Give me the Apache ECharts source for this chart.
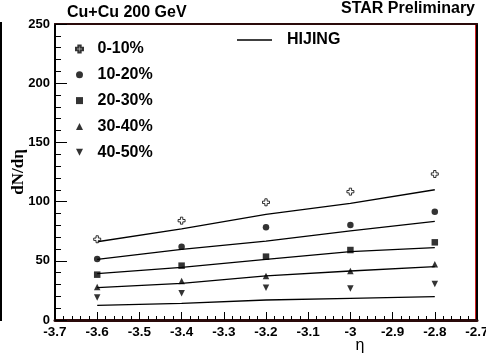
<!DOCTYPE html>
<html>
<head>
<meta charset="utf-8">
<script src="https://cdn.jsdelivr.net/npm/echarts@6/dist/echarts.min.js"></script>
<style>
  html, body { margin: 0; padding: 0; background: #fff; }
  #main { width: 486px; height: 362px; }
</style>
</head>
<body>
<div id="main"></div>
<script>
// eta bins
var eta = [-3.6, -3.4, -3.2, -3.0, -2.8];

// measured dN/deta per centrality
var cent0010 = [68.2, 83.9, 99.4, 108.4, 123.3];
var cent1020 = [51.5, 61.9, 78.3, 80.2, 91.5];
var cent2030 = [38.3, 45.9, 53.5, 59.1, 65.6];
var cent3040 = [27.9, 32.9, 37.2, 41.4, 47.0];
var cent4050 = [18.9, 22.5, 27.3, 26.7, 30.4];

// HIJING curves, same order
var hij0010 = [66.1, 76.9, 89.2, 98.5, 110.0];
var hij1020 = [51.2, 59.7, 66.7, 75.2, 83.3];
var hij2030 = [39.1, 44.5, 51.2, 57.7, 61.1];
var hij3040 = [27.3, 31.0, 37.2, 41.4, 45.0];
var hij4050 = [12.4, 14.1, 16.9, 18.3, 19.7];

var centNames = ['0-10%', '10-20%', '20-30%', '30-40%', '40-50%'];
var xTicks = { min: -3.7, max: -2.7, step: 0.1 };
var yTicks = { min: 0, max: 250, step: 50 };

var FONT = '"Liberation Sans", Arial, sans-serif';

function pairs(ys) {
  var out = [];
  for (var i = 0; i < eta.length; i++) {
    out.push([eta[i], ys[i]]);
  }
  return out;
}

// ROOT-ish marker shapes
var symOpenCross = 'path://M1,0H2V1H3V2H2V3H1V2H0V1H1Z';
var symSquare = 'path://M0,0H1V1H0Z';
var symTriUp = 'path://M1,0L2,2L0,2Z';
var symTriDown = 'path://M0,0L2,0L1,2Z';

var dataSets = [cent0010, cent1020, cent2030, cent3040, cent4050];
var symbols = [symOpenCross, 'circle', symSquare, symTriUp, symTriDown];
var hijSets = [hij0010, hij1020, hij2030, hij3040, hij4050];

var series = [];
for (var h = 0; h < hijSets.length; h++) {
  series.push({
    name: 'HIJING',
    type: 'line',
    data: pairs(hijSets[h]),
    symbol: 'none',
    lineStyle: { color: '#000', width: 1.3 },
    itemStyle: { color: '#000' },
    z: 2
  });
}
for (var s = 0; s < dataSets.length; s++) {
  series.push({
    name: centNames[s],
    type: 'scatter',
    data: pairs(dataSets[s]),
    symbol: symbols[s],
    symbolSize: s === 0 ? 7 : 6.5,
    itemStyle: s === 0
      ? { color: '#fff', borderColor: '#000', borderWidth: 1 }
      : { color: '#000' },
    z: 5
  });
}

var myChart = echarts.init(document.getElementById('main'));

var option = {
  animation: false,
  backgroundColor: '#fff',
  title: [
    {
      text: 'Cu+Cu 200 GeV',
      left: 67, top: 5, padding: 0,
      textStyle: { fontFamily: FONT, fontSize: 16, fontWeight: 'bold', color: '#000' }
    },
    {
      text: 'STAR Preliminary',
      right: 11, top: 1, padding: 0,
      textStyle: { fontFamily: FONT, fontSize: 16, fontWeight: 'bold', color: '#000' }
    }
  ],
  legend: [
    {
      data: centNames,
      orient: 'vertical',
      left: 75, top: 40, padding: 0,
      itemWidth: 26, itemHeight: 7,
      itemGap: 7.8,
      textStyle: { fontFamily: FONT, fontSize: 16, fontWeight: 'bold', color: '#000', lineHeight: 18 }
    },
    {
      data: [{ name: 'HIJING', icon: 'path://M0,0H70V3H0Z' }],
      left: 237, top: 31, padding: 0,
      itemWidth: 35, itemHeight: 14,
      itemStyle: { color: '#000' },
      textStyle: { fontFamily: FONT, fontSize: 16, fontWeight: 'bold', color: '#000', lineHeight: 18, padding: [0, 0, 0, 10] }
    }
  ],
  grid: { left: 55, right: 9, top: 24, bottom: 42, outerBoundsMode: 'none' },
  xAxis: [
    {
      type: 'value',
      position: 'bottom',
      min: xTicks.min, max: xTicks.max, interval: xTicks.step,
      name: 'η',
      nameLocation: 'middle',
      nameGap: 18,
      nameMoveOverlap: false,
      nameTextStyle: { fontFamily: FONT, fontSize: 16, color: '#000', padding: [0, 0, 0, 188] },
      axisLine: { show: true, onZero: false, lineStyle: { color: '#2a0a0a', width: 3 } },
      axisTick: { show: true, inside: true, length: 8, lineStyle: { color: '#000', width: 1 } },
      minorTick: { show: true, splitNumber: 5, length: 4, lineStyle: { color: '#000', width: 1 } },
      axisLabel: {
        margin: 5,
        fontFamily: FONT, fontSize: 13.5, fontWeight: 'bold', color: '#000',
        formatter: function (v) { return String(+v.toFixed(1)); }
      },
      splitLine: { show: false }
    },
    {
      type: 'value',
      position: 'top',
      min: xTicks.min, max: xTicks.max,
      axisLine: { show: true, onZero: false, lineStyle: { color: '#2a0a0a', width: 2 } },
      axisTick: { show: false },
      axisLabel: { show: false },
      splitLine: { show: false }
    }
  ],
  yAxis: [
    {
      type: 'value',
      position: 'left',
      min: yTicks.min, max: yTicks.max, interval: yTicks.step,
      name: 'dN/dη',
      nameLocation: 'middle',
      nameGap: 28,
      nameMoveOverlap: false,
      nameRotate: 90,
      nameTextStyle: { fontFamily: '"Liberation Serif", "Times New Roman", serif', fontSize: 17, fontWeight: 'bold', color: '#000' },
      axisLine: { show: true, onZero: false, lineStyle: { color: '#000', width: 2 } },
      axisTick: { show: true, inside: true, length: 12, lineStyle: { color: '#000', width: 1 } },
      minorTick: { show: true, splitNumber: 5, length: 6, lineStyle: { color: '#000', width: 1 } },
      axisLabel: { margin: 5, fontFamily: FONT, fontSize: 13, fontWeight: 'bold', color: '#000' },
      splitLine: { show: false }
    },
    {
      type: 'value',
      position: 'right',
      min: yTicks.min, max: yTicks.max,
      axisLine: { show: true, onZero: false, lineStyle: { color: '#000', width: 2 } },
      axisTick: { show: false },
      axisLabel: { show: false },
      splitLine: { show: false }
    },
    {
      type: 'value',
      position: 'right',
      offset: -2,
      min: yTicks.min, max: yTicks.max,
      axisLine: { show: true, onZero: false, lineStyle: { color: '#d02020', width: 1 } },
      axisTick: { show: false },
      axisLabel: { show: false },
      splitLine: { show: false }
    }
  ],
  graphic: [
    // edge of the neighbouring pad that got cropped into the picture
    { type: 'rect', left: 0, top: 22, shape: { width: 2, height: 299 }, style: { fill: '#000' } }
  ],
  series: series
};
myChart.setOption(option);
</script>
</body>
</html>
